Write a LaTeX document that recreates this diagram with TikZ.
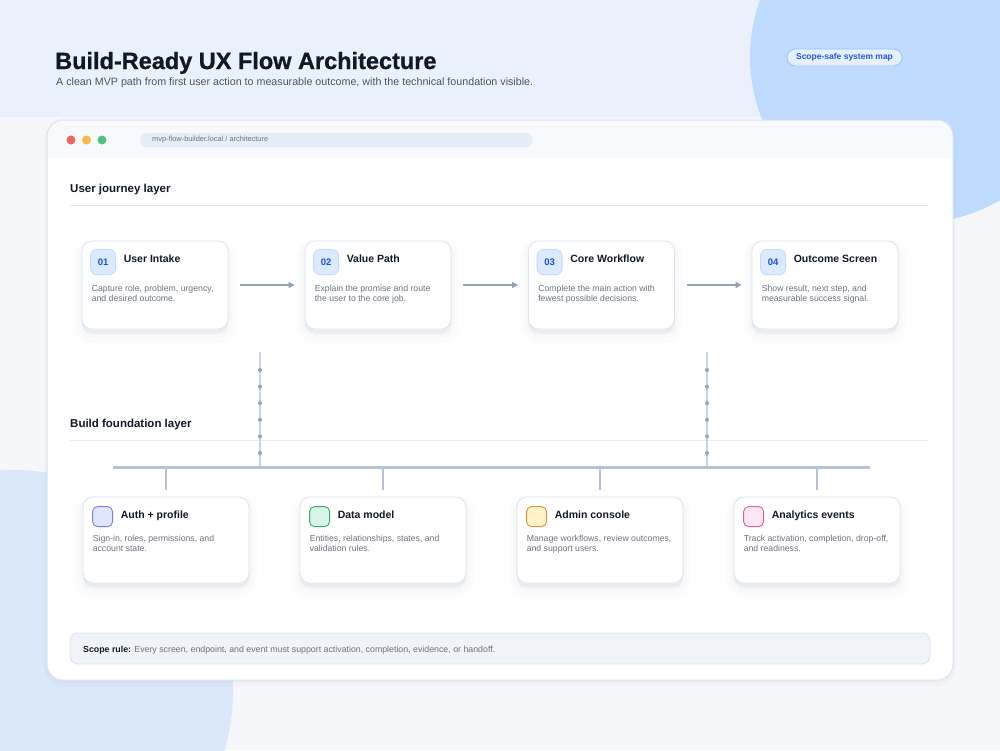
\documentclass[tikz,border=0pt]{standalone}
\usepackage{fontspec}
\setmainfont{Liberation Sans}
\newfontfamily\titlefont{Liberation Sans}[BoldFeatures={FakeBold=0.9}]
\usetikzlibrary{arrows.meta}
\definecolor{bgA}{HTML}{EAF1FB}
\definecolor{bgB}{HTML}{F5F7FB}
\definecolor{circA}{HTML}{BFDBFE}
\definecolor{circB}{HTML}{DBE8FC}
\definecolor{winborder}{HTML}{DCE3EE}
\definecolor{headfill}{HTML}{F7F9FC}
\definecolor{urlfill}{HTML}{E6EDF7}
\definecolor{ink}{HTML}{111827}
\definecolor{muted}{HTML}{6B7280}
\definecolor{subt}{HTML}{4B5563}
\definecolor{cardborder}{HTML}{DCE4F0}
\definecolor{badgefill}{HTML}{DBEAFE}
\definecolor{badgeborder}{HTML}{BFDBFE}
\definecolor{badgetext}{HTML}{1D4ED8}
\definecolor{arrowc}{HTML}{94A3B8}
\definecolor{busc}{HTML}{B6C3D6}
\definecolor{vlinec}{HTML}{CBD5E1}
\definecolor{sepc}{HTML}{E2E8F0}
\definecolor{rulefill}{HTML}{F0F4F9}
\definecolor{pillfill}{HTML}{E6F0FD}
\definecolor{pillborder}{HTML}{93C5FD}
\definecolor{pilltext}{HTML}{2B55D6}
\definecolor{shadowc}{HTML}{334155}
\definecolor{redL}{HTML}{EF6461}
\definecolor{yelL}{HTML}{F5B945}
\definecolor{grnL}{HTML}{4DC27A}
\definecolor{indF}{HTML}{E0E7FF}
\definecolor{indB}{HTML}{7C7FE0}
\definecolor{grnF}{HTML}{D7F5E6}
\definecolor{grnB}{HTML}{3FA37A}
\definecolor{ambF}{HTML}{FEF3C7}
\definecolor{ambB}{HTML}{D9914A}
\definecolor{pnkF}{HTML}{FCE7F3}
\definecolor{pnkB}{HTML}{D9619A}
\tikzset{
  shadowed/.style={
    preaction={fill=shadowc, opacity=0.010, draw=shadowc, line width=16pt, transform canvas={yshift=-6pt}},
    preaction={fill=shadowc, opacity=0.015, draw=shadowc, line width=8pt, transform canvas={yshift=-5pt}},
    preaction={fill=shadowc, opacity=0.02, draw=shadowc, line width=3pt, transform canvas={yshift=-3pt}}},
  jcard/.style={shadowed, draw=cardborder, fill=white, rounded corners=10pt, line width=0.8pt, minimum width=146pt, minimum height=88pt, inner sep=0pt},
  fcard/.style={shadowed, draw=cardborder, fill=white, rounded corners=10pt, line width=0.8pt, minimum width=166pt, minimum height=86pt, inner sep=0pt},
  badge/.style={draw=badgeborder, fill=badgefill, rounded corners=6pt, minimum size=25pt, inner sep=0pt, line width=0.8pt, text=badgetext, font=\bfseries\fontsize{9.5}{11}\selectfont},
  icon/.style={rounded corners=5pt, minimum size=20pt, inner sep=0pt, line width=0.9pt},
  ctitle/.style={anchor=base west, inner sep=0pt, text=ink, font=\bfseries\fontsize{10.5}{12}\selectfont},
  cdesc/.style={anchor=base west, inner sep=0pt, text=muted, font=\fontsize{8.7}{10}\selectfont},
  layerlabel/.style={anchor=base west, inner sep=0pt, text=ink, font=\bfseries\fontsize{11.5}{13}\selectfont},
  sepline/.style={draw=sepc, line width=1pt},
  flow/.style={draw=arrowc, line width=2pt, -{Triangle[length=6pt,width=6pt]}, shorten <=12pt, shorten >=10pt},
  vline/.style={draw=vlinec, line width=1.2pt},
  vdot/.style={fill=arrowc},
  bus/.style={draw=busc, line width=3pt},
  drop/.style={draw=busc, line width=2pt},
  light/.style={circle, minimum size=9pt, inner sep=0pt}
}
\newcommand\jcard[6]{%
  \node[jcard] (#1) at (#2,285) {};
  \node[badge] (#1b) at ([xshift=21.5pt,yshift=-21.5pt]#1.north west) {#3};
  \node[ctitle] (#1t) at ([xshift=42pt,yshift=-22pt]#1.north west) {#4};
  \node[cdesc] (#1d) at ([xshift=10pt,yshift=-51pt]#1.north west) {#5};
  \node[cdesc] (#1e) at ([xshift=10pt,yshift=-61pt]#1.north west) {#6};
}
\newcommand\fcard[7]{%
  \node[fcard] (#1) at (#2,540) {};
  \node[icon, fill=#3, draw=#4] (#1i) at ([xshift=20pt,yshift=-20pt]#1.north west) {};
  \node[ctitle] (#1t) at ([xshift=38pt,yshift=-22pt]#1.north west) {#5};
  \node[cdesc] (#1d) at ([xshift=10pt,yshift=-45pt]#1.north west) {#6};
  \node[cdesc] (#1e) at ([xshift=10pt,yshift=-55pt]#1.north west) {#7};
}
\begin{document}
\begin{tikzpicture}[x=1pt,y=-1pt]
\useasboundingbox (0,0) rectangle (1000,750);
% background
\fill[bgB] (0,0) rectangle (1000,750);
\fill[bgA] (0,0) rectangle (1000,117);
\begin{scope}
  \clip (0,0) rectangle (1000,750);
  \fill[circA] (916,57) circle (166);
  \fill[circB] (13,690) circle (220);
\end{scope}
% header
\node[anchor=base west, inner sep=0pt, text=ink, font=\titlefont\bfseries\fontsize{23.5}{28}\selectfont] (title) at (55,69) {Build-Ready UX Flow Architecture};
\node[anchor=base west, inner sep=0pt, text=subt, font=\fontsize{10.7}{12}\selectfont] (subtitle) at (56,85) {A clean MVP path from first user action to measurable outcome, with the technical foundation visible.};
\node[draw=pillborder, fill=pillfill, rounded corners=8.5pt, minimum width=115pt, minimum height=17pt, inner sep=0pt, text=pilltext, font=\bfseries\fontsize{8.5}{9}\selectfont, line width=0.8pt] (pill) at (844.5,57.5) {Scope-safe system map};
% window
\fill[shadowc, opacity=0.02, rounded corners=18pt] (44,122) rectangle (956,686);
\fill[shadowc, opacity=0.02, rounded corners=17pt] (46,121) rectangle (954,683);
\fill[white, rounded corners=16pt] (47,120) rectangle (953,680);
\fill[headfill] (47,158) {[rounded corners=16pt] -- (47,120) -- (953,120)} -- (953,158) -- cycle;
\draw[winborder, line width=1pt, rounded corners=16pt] (47,120) rectangle (953,680);
\node[light, fill=redL] (l1) at (71,140) {};
\node[light, fill=yelL] (l2) at (86.5,140) {};
\node[light, fill=grnL] (l3) at (102,140) {};
\node[fill=urlfill, rounded corners=7pt, minimum width=393pt, minimum height=14pt, inner sep=0pt] (url) at (336.5,140) {};
\node[anchor=west, inner sep=0pt, text=muted, font=\fontsize{7.4}{8}\selectfont] (urltext) at (152,140) {mvp-flow-builder.local / architecture};
% user journey layer
\node[layerlabel] (ujl) at (70,192) {User journey layer};
\draw[sepline] (70,205) -- (928,205);
\jcard{c1}{155}{01}{User Intake}{Capture role, problem, urgency,}{and desired outcome.}
\jcard{c2}{378}{02}{Value Path}{Explain the promise and route}{the user to the core job.}
\jcard{c3}{601.5}{03}{Core Workflow}{Complete the main action with}{fewest possible decisions.}
\jcard{c4}{825}{04}{Outcome Screen}{Show result, next step, and}{measurable success signal.}
\draw[flow] (c1) -- (c2);
\draw[flow] (c2) -- (c3);
\draw[flow] (c3) -- (c4);
% build foundation layer
\node[layerlabel] (bfl) at (70,427) {Build foundation layer};
\draw[sepline, draw=sepc!80!blue!30] (70,440) -- (928,440);
\coordinate (busL) at (113,467);
\coordinate (busR) at (870,467);
\coordinate (t1) at (260,352);
\coordinate (t2) at (707,352);
\draw[vline] (t1) -- (t1 |- busL);
\draw[vline] (t2) -- (t2 |- busL);
\foreach \yy in {370,386.6,403.2,419.8,436.4,453} {
  \fill[vdot] (260,\yy) circle (2);
  \fill[vdot] (707,\yy) circle (2);
}
\draw[bus] (busL) -- (busR);
\fcard{b1}{166}{indF}{indB}{Auth + profile}{Sign-in, roles, permissions, and}{account state.}
\fcard{b2}{383}{grnF}{grnB}{Data model}{Entities, relationships, states, and}{validation rules.}
\fcard{b3}{600}{ambF}{ambB}{Admin console}{Manage workflows, review outcomes,}{and support users.}
\fcard{b4}{817}{pnkF}{pnkB}{Analytics events}{Track activation, completion, drop-off,}{and readiness.}
\foreach \b in {b1,b2,b3,b4} {
  \draw[drop, shorten >=7pt] (\b.north |- busL) -- (\b.north);
}
% scope rule
\node[draw=winborder, fill=rulefill, rounded corners=8pt, minimum width=860pt, minimum height=31pt, inner sep=0pt, line width=0.8pt] (rule) at (500,648.5) {};
\node[anchor=base west, inner sep=0pt, text=muted, font=\fontsize{8.8}{10}\selectfont] (ruletext) at (83,652) {{\color{ink}\bfseries Scope rule:} Every screen, endpoint, and event must support activation, completion, evidence, or handoff.};
\end{tikzpicture}
\end{document}
